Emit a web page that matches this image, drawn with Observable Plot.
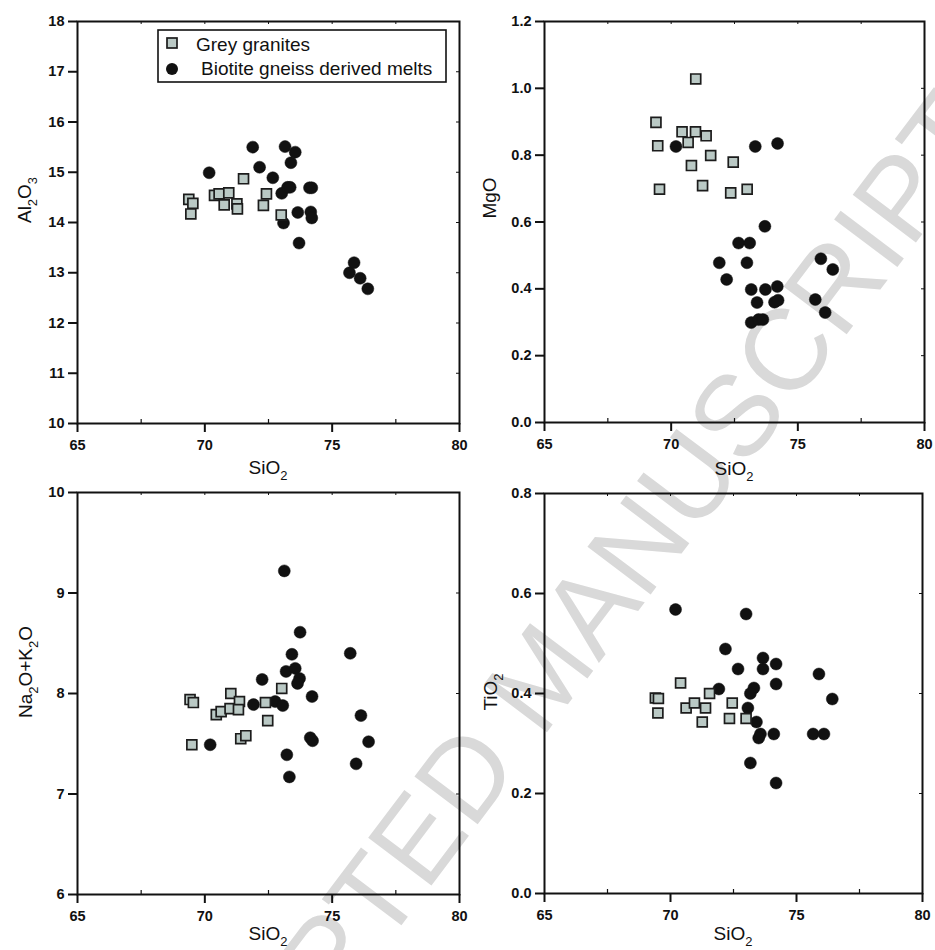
<!DOCTYPE html>
<html><head><meta charset="utf-8">
<script src="https://cdn.jsdelivr.net/npm/d3@7"></script>
<script src="https://cdn.jsdelivr.net/npm/@observablehq/plot@0.6"></script>
<style>
html,body{margin:0;padding:0;background:#fff;}
#page{position:relative;width:935px;height:950px;overflow:hidden;font-family:"Liberation Sans",Arial,sans-serif;}
#wm{position:absolute;left:0;top:0;z-index:0;}
.panel{position:absolute;z-index:1;}
</style></head><body><div id="page"></div>
<script>
// ---------- data ----------
const xTicks = [65, 70, 75, 80];
const xMinor = [67.5, 72.5, 77.5];
const seriesNames = ["Grey granites", "Biotite gneiss derived melts"];

// Panel A: Al2O3 vs SiO2
const alGreySi = [69.37, 69.53, 69.45, 70.38, 70.56, 70.76, 70.94, 71.26, 71.28, 71.52, 72.42, 72.30, 73.00];
const alGrey   = [14.46, 14.38, 14.17, 14.54, 14.57, 14.35, 14.59, 14.37, 14.27, 14.87, 14.57, 14.34, 14.15];
const alMeltSi = [70.17, 71.88, 72.15, 72.67, 73.15, 73.55, 73.38, 73.02, 73.25, 73.35, 73.09, 73.65, 73.70, 74.11, 74.20, 74.16, 74.20, 75.68, 75.86, 76.10, 76.40];
const alMelt   = [14.99, 15.50, 15.10, 14.89, 15.51, 15.40, 15.19, 14.58, 14.70, 14.70, 13.99, 14.20, 13.59, 14.69, 14.69, 14.21, 14.09, 13.00, 13.20, 12.89, 12.68];
const alTicks  = [10, 11, 12, 13, 14, 15, 16, 17, 18];

// Panel B: MgO vs SiO2
const mgGreySi = [69.40, 69.47, 69.54, 70.43, 70.67, 70.96, 70.97, 71.38, 70.80, 71.24, 71.56, 72.45, 72.35, 73.00];
const mgGrey   = [0.898, 0.828, 0.698, 0.870, 0.838, 0.870, 1.028, 0.858, 0.769, 0.709, 0.799, 0.779, 0.687, 0.698];
const mgMeltSi = [70.19, 73.32, 74.20, 73.70, 72.66, 73.10, 71.90, 72.99, 72.19, 73.16, 73.72, 74.19, 73.39, 74.08, 74.22, 73.16, 73.45, 73.62, 75.91, 76.38, 75.69, 76.08];
const mgMelt   = [0.826, 0.826, 0.835, 0.587, 0.537, 0.537, 0.478, 0.478, 0.428, 0.398, 0.398, 0.407, 0.359, 0.360, 0.366, 0.299, 0.308, 0.308, 0.490, 0.458, 0.368, 0.329];
const mgTicks  = [0, 0.2, 0.4, 0.6, 0.8, 1.0, 1.2];

// Panel C: Na2O+K2O vs SiO2
const alkGreySi = [69.42, 69.55, 69.49, 70.45, 70.64, 71.02, 70.99, 71.36, 71.32, 71.41, 71.61, 72.38, 72.47, 73.02];
const alkGrey   = [7.94, 7.91, 7.49, 7.79, 7.82, 8.00, 7.85, 7.92, 7.84, 7.55, 7.58, 7.91, 7.73, 8.05];
const alkMeltSi = [70.21, 71.91, 72.25, 72.76, 73.06, 73.12, 73.19, 73.42, 73.22, 73.32, 73.55, 73.72, 73.64, 73.74, 74.21, 74.14, 74.23, 75.71, 76.13, 75.94, 76.43];
const alkMelt   = [7.49, 7.89, 8.14, 7.92, 7.88, 9.22, 8.22, 8.39, 7.39, 7.17, 8.25, 8.15, 8.10, 8.61, 7.97, 7.56, 7.53, 8.40, 7.78, 7.30, 7.52];
const alkTicks  = [6, 7, 8, 9, 10];

// Panel D: TiO2 vs SiO2
const tiGreySi = [69.40, 69.52, 69.50, 70.40, 70.62, 70.95, 71.39, 71.26, 71.55, 72.45, 72.34, 73.00];
const tiGrey   = [0.391, 0.390, 0.361, 0.421, 0.371, 0.381, 0.371, 0.343, 0.400, 0.381, 0.350, 0.350];
const tiMeltSi = [70.20, 73.00, 72.18, 72.68, 73.67, 73.67, 74.19, 74.19, 75.89, 76.42, 71.92, 73.31, 73.17, 73.07, 73.41, 73.57, 73.50, 74.10, 75.66, 76.09, 73.17, 74.19];
const tiMelt   = [0.568, 0.559, 0.489, 0.449, 0.471, 0.449, 0.459, 0.419, 0.439, 0.389, 0.409, 0.411, 0.400, 0.371, 0.343, 0.319, 0.311, 0.319, 0.319, 0.319, 0.261, 0.221];
const tiTicks  = [0, 0.2, 0.4, 0.6, 0.8];

const watermark = "ACCEPTED MANUSCRIPT";

// ---------- styles ----------
const greyFill = "#bac9c5";
const ink = "#111";
const font = "'Liberation Sans', Arial, sans-serif";

const page = document.getElementById("page");

// watermark behind everything
const wm = d3.select(page).append("svg").attr("id","wm").attr("width",935).attr("height",950);
wm.append("text")
  .attr("transform","translate(540,675) rotate(-53)")
  .attr("text-anchor","middle").attr("dominant-baseline","central")
  .attr("font-family",font).attr("font-size",115).attr("fill","#d9d9d9")
  .text(watermark);

function zip(xs, ys) { return xs.map((x, i) => ({x, y: ys[i]})); }

function addTitle(svg, parts, x, y, rotate, size) {
  const t = d3.select(svg).append("text")
    .attr("text-anchor","middle").attr("font-family",font)
    .attr("font-size",size).attr("font-weight","normal").attr("fill",ink)
    .attr("transform",`translate(${x},${y}) rotate(${rotate})`);
  let shifted = false;
  const shift = size * 0.3;
  parts.forEach(([s, sub]) => {
    const ts = t.append("tspan").text(s);
    if (sub) { ts.attr("font-size", size * 0.68); if (!shifted) { ts.attr("dy", shift); shifted = true; } }
    else if (shifted) { ts.attr("dy", -shift); shifted = false; }
  });
}

const panels = [
  {left:0, top:0, width:467, height:470, m:[21,8,47,77], grey: zip(alGreySi, alGrey), melt: zip(alMeltSi, alMelt),
   yDomain:[10,18], yTicks: alTicks, fmt: d => String(d),
   xTitle:[["SiO"],["2",1]], xTitleY:474, yTitle:[["Al"],["2",1],["O"],["3",1]], yTitleX:31, yTitleY:200, legend:true},
  {left:467, top:0, width:468, height:470, m:[21,11,48,77], grey: zip(mgGreySi, mgGrey), melt: zip(mgMeltSi, mgMelt),
   yDomain:[0,1.2], yTicks: mgTicks, fmt: d3.format(".1f"),
   xTitle:[["SiO"],["2",1]], xTitleY:475, yTitle:[["MgO"]], yTitleX:29, yTitleY:198},
  {left:0, top:470, width:467, height:480, m:[22,8,56,77], grey: zip(alkGreySi, alkGrey), melt: zip(alkMeltSi, alkMelt),
   yDomain:[6,10], yTicks: alkTicks, fmt: d => String(d),
   xTitle:[["SiO"],["2",1]], xTitleY:470, yTitle:[["Na"],["2",1],["O+K"],["2",1],["O"]], yTitleX:32, yTitleY:202},
  {left:467, top:470, width:468, height:480, m:[23,13,57,77], grey: zip(tiGreySi, tiGrey), melt: zip(tiMeltSi, tiMelt),
   yDomain:[0,0.8], yTicks: tiTicks, fmt: d3.format(".1f"),
   xTitle:[["SiO"],["2",1]], xTitleY:470, yTitle:[["TiO"],["2",1]], yTitleX:30, yTitleY:222}
];

panels.forEach(p => {
  const [mt, mr, mb, ml] = p.m;
  const W = p.width - ml - mr, H = p.height - mt - mb;
  const top = [67.5, 70, 72.5, 75, 77.5];
  const rightTicks = p.yTicks.slice(1, -1);
  const svg = Plot.plot({
    width: p.width, height: p.height,
    marginTop: mt, marginRight: mr, marginBottom: mb, marginLeft: ml,
    style: {background: "transparent", overflow: "visible", fontFamily: font, color: ink},
    x: {domain: [65, 80]},
    y: {domain: p.yDomain},
    marks: [
      Plot.ruleX(xMinor, {x: d => d, insetTop: H - 4, stroke: ink, strokeWidth: 1.2}),
      Plot.ruleX(top, {x: d => d, insetBottom: H - 3, stroke: ink, strokeWidth: 1}),
      Plot.ruleY(rightTicks, {y: d => d, insetLeft: W - 3, stroke: ink, strokeWidth: 1}),
      Plot.axisX(xTicks, {tickSize: 9, tickPadding: 7, strokeWidth: 2, stroke: ink, fill: ink,
        tickFormat: d => String(d), label: null}),
      Plot.axisY(p.yTicks, {tickSize: 9, tickPadding: 4, strokeWidth: 2, stroke: ink, fill: ink,
        tickFormat: p.fmt, label: null}),
      Plot.dot(p.melt, {x: "x", y: "y", r: 6, fill: ink, stroke: ink, strokeWidth: 0.5}),
      Plot.dot(p.grey, {x: "x", y: "y", r: 5.6, symbol: "square", fill: greyFill, stroke: "#1c1c1c", strokeWidth: 1.7}),
      Plot.frame({stroke: ink, strokeWidth: 2})
    ]
  });
  svg.classList.add("panel");
  svg.style.left = p.left + "px";
  svg.style.top = p.top + "px";
  page.appendChild(svg);

  // bold tick labels (all texts Plot produced are tick labels)
  d3.select(svg).selectAll("text")
    .style("font-size", "14.5px").style("font-weight", "bold").style("font-family", font);

  addTitle(svg, p.xTitle, ml + W / 2, p.xTitleY, 0, 19);
  addTitle(svg, p.yTitle, p.yTitleX, p.yTitleY, -90, 19);

  if (p.legend) {
    const g = d3.select(svg).append("g").attr("font-family", font).attr("font-weight", "normal")
      .attr("font-size", 19).attr("fill", ink).attr("text-anchor", "start");
    g.append("rect").attr("x", 158).attr("y", 30).attr("width", 288).attr("height", 52)
      .attr("fill", "#fff").attr("stroke", ink).attr("stroke-width", 1.6);
    g.append("rect").attr("x", 167).attr("y", 38).attr("width", 10).attr("height", 10)
      .attr("fill", greyFill).attr("stroke", "#1c1c1c").attr("stroke-width", 1.7);
    g.append("circle").attr("cx", 172).attr("cy", 69).attr("r", 6).attr("fill", ink);
    g.append("text").attr("x", 196).attr("y", 51).text(seriesNames[0]);
    g.append("text").attr("x", 201).attr("y", 75).text(seriesNames[1]);
  }
});
</script>
</body></html>
